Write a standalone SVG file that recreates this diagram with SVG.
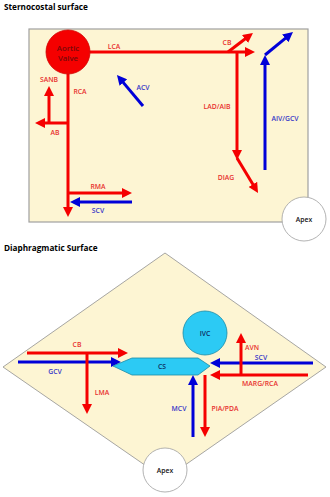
<svg xmlns="http://www.w3.org/2000/svg" width="330" height="497" viewBox="0 0 330 497">
<defs>
<style>
.title{font-family:"Open Sans","Noto Sans",sans-serif;font-weight:bold;font-size:8.2px;fill:#000}
.lbl{font-family:"Open Sans","Noto Sans",sans-serif;font-size:6.8px;font-weight:600;text-anchor:middle;dominant-baseline:central}
.av{font-size:7.8px;fill:#7a0808}
.r{fill:#e8302e}
.b{fill:#3636c8}
.k{fill:#111}
.n{fill:#0c2a60}
.ar{stroke:#f50000;stroke-width:3;fill:none;marker-end:url(#mr)}
.ab{stroke:#0000d8;stroke-width:3;fill:none;marker-end:url(#mb)}
</style>
<marker id="mr" viewBox="0 0 10 10" refX="2" refY="5" markerWidth="10" markerHeight="10" markerUnits="userSpaceOnUse" orient="auto"><path d="M0,0 L10,5 L0,10 z" fill="#f50000"/></marker>
<marker id="mb" viewBox="0 0 10 10" refX="2" refY="5" markerWidth="10" markerHeight="10" markerUnits="userSpaceOnUse" orient="auto"><path d="M0,0 L10,5 L0,10 z" fill="#0000d8"/></marker>
</defs>
<rect width="330" height="497" fill="#fff"/>
<text class="title" x="4" y="10">Sternocostal surface</text>
<text class="title" x="4" y="251">Diaphragmatic Surface</text>
<g id="sternocostal-bg"><rect x="29" y="29" width="279" height="193" fill="#fdf5d3" stroke="#a0a0a0" stroke-width="1.2"/></g>
<g id="diaphragmatic-bg"><polygon points="165,253 326,367 165,479 3,367" fill="#fdf5d3" stroke="#909090" stroke-width="0.8"/></g>
<g id="connectors">
<path class="ar" d="M90,52 H247"/>
<path class="ar" d="M228,52 L246.6,37.8"/>
<path class="ar" d="M237,52 V152"/>
<path class="ar" d="M237,158 L253.9,186.1"/>
<path class="ab" d="M265,170 V63"/>
<path class="ab" d="M265,55 L286.8,37.1"/>
<path class="ab" d="M143,106 L122.1,81.1"/>
<path class="ar" d="M68,74 V209"/>
<path class="ar" d="M49,123 V94"/>
<path class="ar" d="M68,123 H43"/>
<path class="ar" d="M68,193 H124"/>
<path class="ab" d="M132,202 H78"/>
<path class="ar" d="M27,353 H120"/>
<path class="ab" d="M18,362 H113"/>
<path class="ar" d="M87,353 V406"/>
<path class="ab" d="M313,363 H218"/>
<path class="ar" d="M241,375 V341"/>
<path class="ar" d="M308,375 H218"/>
<path class="ar" d="M205,375 V429"/>
<path class="ab" d="M193,437 V383"/>
</g>
<g id="labels">
<text class="lbl r" x="114" y="46">LCA</text>
<text class="lbl r" x="227" y="42">CB</text>
<text class="lbl r" x="217" y="106">LAD/AIB</text>
<text class="lbl r" x="226" y="177">DIAG</text>
<text class="lbl b" x="285" y="118">AIV/GCV</text>
<text class="lbl b" x="143" y="87">ACV</text>
<text class="lbl r" x="80" y="91">RCA</text>
<text class="lbl r" x="49" y="79">SANB</text>
<text class="lbl r" x="55" y="132">AB</text>
<text class="lbl r" x="98" y="186">RMA</text>
<text class="lbl b" x="98" y="210">SCV</text>
<text class="lbl r" x="77" y="344">CB</text>
<text class="lbl b" x="55" y="371">GCV</text>
<text class="lbl r" x="102" y="392">LMA</text>
<text class="lbl b" x="261" y="357">SCV</text>
<text class="lbl r" x="252" y="347">AVN</text>
<text class="lbl r" x="260" y="383">MARG/RCA</text>
<text class="lbl r" x="225" y="408">PIA/PDA</text>
<text class="lbl b" x="179" y="408">MCV</text>
</g>
<g id="aortic-valve">
<circle cx="68" cy="52" r="22" fill="#f50000" stroke="#d00000" stroke-width="0.8"/>
<text class="lbl av" x="68" y="48">Aortic</text>
<text class="lbl av" x="68" y="57.5">Valve</text>
</g>
<g id="apex-top">
<circle cx="304" cy="219" r="22" fill="#fff" stroke="#a0a0a0" stroke-width="0.8"/>
<text class="lbl k" x="304" y="219">Apex</text>
</g>
<g id="ivc">
<circle cx="205" cy="333" r="22" fill="#2ccaf4" stroke="#1a8aa6" stroke-width="0.8"/>
<text class="lbl n" x="205" y="333">IVC</text>
</g>
<g id="cs">
<polygon points="113,366 132,358 198,358 210,366 198,375 132,375" fill="#2ccaf4" stroke="#1a8aa6" stroke-width="0.8"/>
<text class="lbl n" x="162" y="366">CS</text>
</g>
<g id="apex-bottom">
<circle cx="165" cy="470" r="22" fill="#fff" stroke="#a0a0a0" stroke-width="0.8"/>
<text class="lbl k" x="165" y="470">Apex</text>
</g>
</svg>
